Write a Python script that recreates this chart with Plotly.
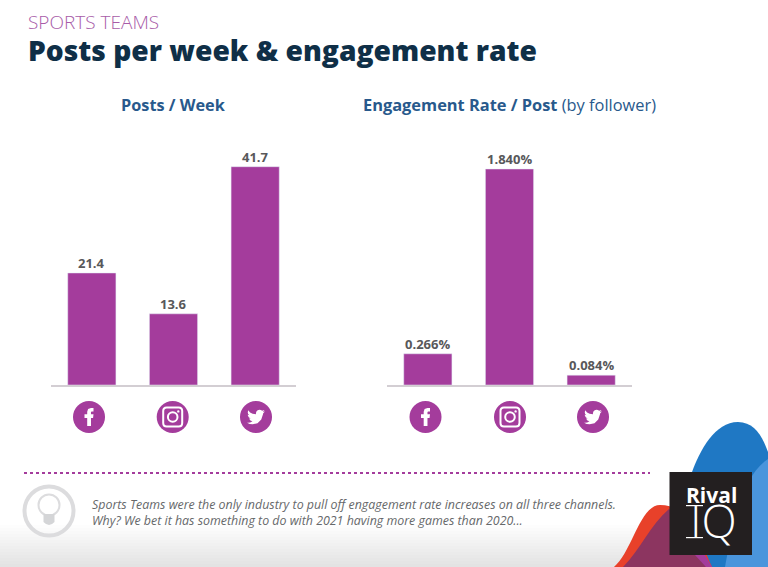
import re
import plotly.graph_objects as go

W, H = 768, 567
channels = ["Facebook", "Instagram", "Twitter"]
posts_per_week = [21.4, 13.6, 41.7]
engagement_rate = [0.266, 1.840, 0.084]

PURPLE = "#a43c9c"
NAVY = "#0f2f47"
BLUE = "#28598c"
GREY = "#58585a"


def fx(x):
    return x / W


def fy(y):
    return 1 - y / H


def P(d):
    """Convert an absolute pixel path into paper coordinates."""
    nums = iter(re.findall(r"-?\d+\.?\d*|[A-Za-z]", d))
    out, coord = [], 0
    for tok in nums:
        if tok.isalpha():
            out.append(tok)
        else:
            v = float(tok)
            out.append(f"{fx(v):.5f}" if coord % 2 == 0 else f"{fy(v):.5f}")
            coord += 1
    return " ".join(out)


def path(d, fill=None, line=None, lw=0, layer="above"):
    return dict(type="path", xref="paper", yref="paper", path=P(d), fillcolor=fill or "rgba(0,0,0,0)",
                line=dict(color=line or "rgba(0,0,0,0)", width=lw), layer=layer)


def rect(x0, y0, x1, y1, fill, layer="above"):
    return dict(type="rect", xref="paper", yref="paper", x0=fx(x0), x1=fx(x1), y0=fy(y1), y1=fy(y0),
                fillcolor=fill, line=dict(width=0), layer=layer)


def circle(cx, cy, r, fill=None, line=None, lw=0):
    return dict(type="circle", xref="paper", yref="paper", x0=fx(cx - r), x1=fx(cx + r), y0=fy(cy + r), y1=fy(cy - r),
                fillcolor=fill or "rgba(0,0,0,0)", line=dict(color=line or "rgba(0,0,0,0)", width=lw))


def text(x, y, s, size, color, family="Open Sans", anchor="left", **kw):
    return dict(xref="paper", yref="paper", x=fx(x), y=fy(y), text=s, showarrow=False, xanchor=anchor, yanchor="middle",
                font=dict(size=size, color=color, family=family, **kw), align="left")


BIRD = [(23.95, 4.57), (21.13, 5.35), (23.29, 2.62), (20.16, 3.81), (18.6, 2.7), (16.6, 2.3), (14.2, 3.1), (12.3, 5.0),
        (11.78, 8.29), (7.5, 7.7), (4.1, 6.0), (1.64, 3.16), (1.0, 5.64), (1.5, 7.9), (3.16, 9.73), (0.93, 9.12),
        (0.93, 9.18), (2.3, 12.3), (4.88, 14.0), (2.67, 14.09), (4.5, 16.5), (7.27, 17.51), (4.3, 19.2), (1.17, 19.61),
        (0, 19.54), (3.6, 21.2), (7.56, 21.75), (14.0, 20.2), (19.0, 15.2), (21.56, 7.77), (21.54, 7.14), (24, 4.59)]


def bird(cx, cy, scale=0.75):
    pts = [(cx + (x - 12) * scale, cy + (y - 12) * scale) for x, y in BIRD]
    return path("M " + " L ".join(f"{x:.2f} {y:.2f}" for x, y in pts) + " Z", fill="white")


def fbook(cx, cy):
    pts = [(2.2, -10), (5, -10), (5, -6.2), (3, -6.2), (2.2, -5.6), (2.2, -3), (5, -3), (4.5, 1), (2.2, 1), (2.2, 10), (-2, 10),
           (-2, 1), (-5, 1), (-5, -3), (-2, -3), (-2, -5.8), (-1, -8.8)]
    s = "M " + " L ".join(f"{cx + x * 0.9:.2f} {cy + y * 0.9:.2f}" for x, y in pts) + " Z"
    return path(s, fill="white")


def insta(cx, cy):
    r, c = 9.5, 3.5
    d = (f"M {cx-r+c} {cy-r} L {cx+r-c} {cy-r} Q {cx+r} {cy-r} {cx+r} {cy-r+c} L {cx+r} {cy+r-c} "
         f"Q {cx+r} {cy+r} {cx+r-c} {cy+r} L {cx-r+c} {cy+r} Q {cx-r} {cy+r} {cx-r} {cy+r-c} "
         f"L {cx-r} {cy-r+c} Q {cx-r} {cy-r} {cx-r+c} {cy-r} Z")
    return [path(d, line="white", lw=2), circle(cx, cy, 4.8, line="white", lw=2), circle(cx + 5.6, cy - 5.6, 1.2, fill="white")]


shapes = []
# soft grey band along the bottom of the slide
steps = 14
for i in range(steps):
    g = 255 - int(28 * (i + 1) / steps)
    shapes.append(rect(0, 525 + i * 3, W, 525 + (i + 1) * 3, f"rgb({g},{g},{g})", layer="below"))

# decorative blobs
shapes += [
    path("M 680 567 L 692 472 C 700 450 715 422 738 422 C 755 422 763 438 768 452 L 768 567 Z", fill="#1f78c4"),
    path("M 725 567 C 735 510 745 475 768 459 L 768 567 Z", fill="#4a95dc"),
    path("M 614 567 C 632 552 640 505 660 505 C 690 505 700 540 712 567 Z", fill="#e8412a"),
    path("M 623 567 C 640 550 650 525 669 509 C 685 520 695 545 706 567 Z", fill="#8c3560"),
    path("M 695 555 L 705 555 L 712 567 L 706 567 Z", fill="#a43c9c"),
    rect(669.5, 472, 752, 555, "#231f20"),
    # serifs of the logo's I
    rect(686, 505, 703, 506.2, "white"),
    rect(686, 537, 703, 538.2, "white"),
]

# divider and lightbulb
shapes.append(dict(type="line", xref="paper", yref="paper", x0=fx(24), x1=fx(650), y0=fy(473), y1=fy(473),
                   line=dict(color=PURPLE, width=2, dash="dot")))
shapes.append(circle(49, 511, 24.5, line="#dcdcde", lw=4))
shapes.append(circle(49, 505, 10.5, line="#dcdcde", lw=2))
shapes.append(path("M 43.5 514 L 54.5 514 L 54.5 522 Q 49 528 43.5 522 Z", fill="#d4d5d7"))

# channel icons
for centers in ([89, 172.7, 256], [425.5, 510, 593]):
    cy = 417
    for c in centers:
        shapes.append(circle(c, cy, 16, fill=PURPLE))
    shapes.append(fbook(centers[0], cy))
    shapes += insta(centers[1], cy)
    shapes.append(bird(centers[2], cy))

fig = go.Figure()
fig.add_trace(go.Bar(x=channels, y=posts_per_week, marker_color=PURPLE, xaxis="x", yaxis="y"))
fig.add_trace(go.Bar(x=channels, y=engagement_rate, marker_color=PURPLE, xaxis="x2", yaxis="y2"))

axis_line = dict(showline=True, linecolor="#d3ced3", linewidth=2, showticklabels=False, ticks="", showgrid=False,
                 zeroline=False, fixedrange=True)
val_axis = dict(visible=False, showgrid=False, zeroline=False, fixedrange=True, domain=[fy(385), fy(140)])

annotations = [
    text(26, 22, "SPORTS TEAMS", 19, "#a85ca8", weight=300),
    text(26, 49.5, "Posts per week &amp; engagement rate", 28.2, NAVY, weight=800),
    text(173, 105, "<b>Posts / Week</b>", 16.3, BLUE, anchor="center"),
    text(509.5, 105, "<b>Engagement Rate / Post</b> (by follower)", 16.4, BLUE, anchor="center"),
    text(90, 512.5, "<i>Sports Teams were the only industry to pull off engagement rate increases on all three channels.<br>"
         "Why? We bet it has something to do with 2021 having more games than 2020...</i>", 12.4, "#66686a"),
    text(711, 494.5, "<b>Rival</b>", 21, "white", anchor="center"),
    text(713, 520, "IQ", 46, "white", anchor="center", weight=300),
]


def value_labels(xref, yref, values, fmt):
    return [dict(xref=xref, yref=yref, x=c, y=v, text=fmt.format(v), showarrow=False, yanchor="bottom", yshift=-1,
                 font=dict(family="Open Sans", size=13, color=GREY, weight="bold"))
            for c, v in zip(channels, values)]


annotations += value_labels("x", "y", posts_per_week, "{:.1f}")
annotations += value_labels("x2", "y2", engagement_rate, "{:.3f}%")

fig.update_layout(
    width=W, height=H, margin=dict(l=0, r=0, t=0, b=0), paper_bgcolor="white", plot_bgcolor="rgba(0,0,0,0)",
    showlegend=False, bargap=0.41,
    xaxis=dict(axis_line, domain=[fx(51), fx(296)]),
    xaxis2=dict(axis_line, domain=[fx(387), fx(632)], anchor="y2"),
    yaxis=dict(val_axis, range=[0, 46.8]),
    yaxis2=dict(val_axis, range=[0, 2.087], anchor="x2"),
    shapes=shapes, annotations=annotations,
)

fig.write_html("out.html", config=dict(displayModeBar=False), post_script="document.body.style.margin='0';")
